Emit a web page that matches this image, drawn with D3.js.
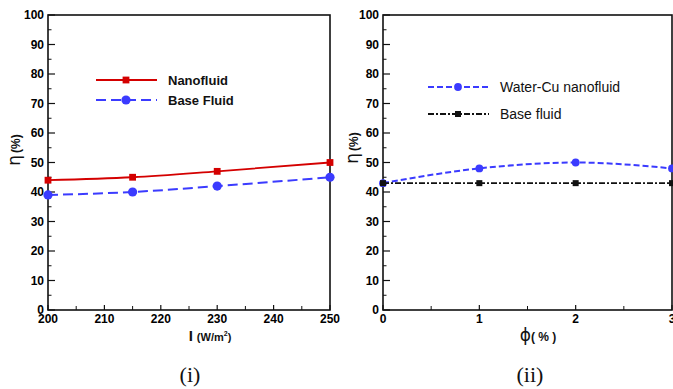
<!DOCTYPE html>
<html>
<head>
<meta charset="utf-8">
<script src="https://cdn.jsdelivr.net/npm/d3@7"></script>
<style>
  body { margin: 0; background: #fff; }
  svg { display: block; font-family: "Liberation Sans", Arial, sans-serif; }
</style>
</head>
<body>
<svg id="chart"></svg>
<script>
// ---- data (i): efficiency vs irradiance ----
const irradiance = [200, 215, 230, 250];
const nanofluidEff = [44, 45, 47, 50];
const baseFluidEff = [39, 40, 42, 45];

// ---- data (ii): efficiency vs volume fraction ----
const phi = [0, 1, 2, 3];
const waterCuEff = [43, 48, 50, 48];
const baseEff2 = [43, 43, 43, 43];

const yTicks = [0, 10, 20, 30, 40, 50, 60, 70, 80, 90, 100];
const xTicks1 = [200, 210, 220, 230, 240, 250];
const xTicks2 = [0, 1, 2, 3];

const width = 673, height = 389;
const svg = d3.select("#chart").attr("width", width).attr("height", height);

const plotTop = 15, plotBottom = 310;

function drawPanel(p) {
  const x = d3.scaleLinear().domain(p.xDomain).range([p.left, p.right]);
  const y = d3.scaleLinear().domain([0, 100]).range([plotBottom, plotTop]);
  const g = svg.append("g");

  // frame
  g.append("rect")
    .attr("x", p.left).attr("y", plotTop)
    .attr("width", p.right - p.left).attr("height", plotBottom - plotTop)
    .attr("fill", "none").attr("stroke", "#111").attr("stroke-width", 1.6);

  // y ticks (inward)
  const yMinor = d3.range(5, 100, 10);
  g.selectAll(".ymaj").data(yTicks).join("line")
    .attr("x1", p.left).attr("x2", p.left + 7)
    .attr("y1", d => y(d)).attr("y2", d => y(d))
    .attr("stroke", "#111").attr("stroke-width", 1.2);
  g.selectAll(".ymin").data(yMinor).join("line")
    .attr("x1", p.left).attr("x2", p.left + 3.5)
    .attr("y1", d => y(d)).attr("y2", d => y(d))
    .attr("stroke", "#111").attr("stroke-width", 1);
  g.selectAll(".ylab").data(yTicks).join("text")
    .attr("x", p.left - 4).attr("y", d => y(d) + 4)
    .attr("text-anchor", "end")
    .attr("font-size", "12px").attr("font-weight", "bold")
    .text(d => d);

  // x ticks (inward)
  g.selectAll(".xmaj").data(p.xTicks).join("line")
    .attr("x1", d => x(d)).attr("x2", d => x(d))
    .attr("y1", plotBottom).attr("y2", plotBottom - 5)
    .attr("stroke", "#111").attr("stroke-width", 1.2);
  g.selectAll(".xmin").data(p.xMinor).join("line")
    .attr("x1", d => x(d)).attr("x2", d => x(d))
    .attr("y1", plotBottom).attr("y2", plotBottom - 4)
    .attr("stroke", "#111").attr("stroke-width", 1);
  g.selectAll(".xlab").data(p.xTicks).join("text")
    .attr("x", d => x(d)).attr("y", plotBottom + 13)
    .attr("text-anchor", "middle")
    .attr("font-size", "12px").attr("font-weight", "bold")
    .text(d => d);

  // series
  p.series.forEach(s => {
    const line = d3.line()
      .x((d, i) => x(p.xs[i]))
      .y(d => y(d))
      .curve(d3.curveMonotoneX);
    g.append("path")
      .datum(s.values)
      .attr("d", line)
      .attr("fill", "none")
      .attr("stroke", s.color)
      .attr("stroke-width", s.width)
      .attr("stroke-dasharray", s.dash);
    s.values.forEach((v, i) => drawMarker(g, s, x(p.xs[i]), y(v)));
  });

  // legend
  p.series.forEach((s, i) => {
    const ly = p.legend.y + i * p.legend.step;
    g.append("line")
      .attr("x1", p.legend.x).attr("x2", p.legend.x + 61)
      .attr("y1", ly).attr("y2", ly)
      .attr("stroke", s.color).attr("stroke-width", s.width)
      .attr("stroke-dasharray", s.dash);
    drawMarker(g, s, p.legend.x + 30, ly);
    g.append("text")
      .attr("x", p.legend.x + p.legend.textGap).attr("y", ly + 5)
      .attr("font-size", p.legend.fontSize)
      .attr("font-weight", p.legend.weight)
      .attr("fill", "#111")
      .text(s.name);
  });

  return g;
}

function drawMarker(g, s, cx, cy) {
  if (s.marker === "circle") {
    g.append("circle").attr("cx", cx).attr("cy", cy).attr("r", s.size)
      .attr("fill", s.color);
  } else {
    g.append("rect")
      .attr("x", cx - s.size).attr("y", cy - s.size)
      .attr("width", s.size * 2).attr("height", s.size * 2)
      .attr("fill", s.color);
  }
}

drawPanel({
  left: 48, right: 330,
  xDomain: [200, 250], xs: irradiance,
  xTicks: xTicks1, xMinor: [205, 215, 225, 235, 245],
  series: [
    { name: "Nanofluid", values: nanofluidEff, color: "#d40000", width: 1.8, dash: null, marker: "square", size: 3.4 },
    { name: "Base Fluid", values: baseFluidEff, color: "#3b3bff", width: 2, dash: "10,5", marker: "circle", size: 4.6 }
  ],
  legend: { x: 96, y: 80, step: 20, textGap: 72, fontSize: "13px", weight: "bold" }
});

drawPanel({
  left: 383, right: 672,
  xDomain: [0, 3], xs: phi,
  xTicks: xTicks2, xMinor: [0.5, 1.5, 2.5],
  series: [
    { name: "Water-Cu nanofluid", values: waterCuEff, color: "#3b3bff", width: 2, dash: "6,3", marker: "circle", size: 3.9 },
    { name: "Base fluid", values: baseEff2, color: "#111", width: 1.8, dash: "6,2,2,2", marker: "square", size: 3 }
  ],
  legend: { x: 428, y: 87, step: 27, textGap: 72, fontSize: "14px", weight: "normal" }
});

// axis titles
function yTitle(cx, cy) {
  const t = svg.append("text")
    .attr("transform", `translate(${cx},${cy}) rotate(-90)`)
    .attr("text-anchor", "middle")
    .attr("fill", "#111");
  t.append("tspan").attr("font-family", "DejaVu Sans, sans-serif").attr("font-size", "17px").text("η");
  t.append("tspan").attr("font-size", "12px").attr("font-weight", "bold").attr("dx", 2).text("(%)");
}
yTitle(20, 150);
yTitle(358, 148);

const xt1 = svg.append("text").attr("x", 210).attr("y", 341).attr("text-anchor", "middle").attr("fill", "#111");
xt1.append("tspan").attr("font-size", "15px").attr("font-weight", "bold").text("I");
xt1.append("tspan").attr("font-size", "11px").attr("font-weight", "bold").attr("dx", 4).text("(W/m");
xt1.append("tspan").attr("font-size", "7px").attr("font-weight", "bold").attr("dy", -5).text("2");
xt1.append("tspan").attr("font-size", "11px").attr("font-weight", "bold").attr("dy", 5).text(")");

const xt2 = svg.append("text").attr("x", 538).attr("y", 341).attr("text-anchor", "middle").attr("fill", "#111");
xt2.append("tspan").attr("font-family", "DejaVu Sans, sans-serif").attr("font-size", "17px").text("ϕ");
xt2.append("tspan").attr("font-size", "12px").attr("font-weight", "bold").text("( % )");

// panel labels
const panelLabels = [{ t: "(i)", x: 190 }, { t: "(ii)", x: 530 }];
svg.selectAll(".plab").data(panelLabels).join("text")
  .attr("x", d => d.x).attr("y", 382)
  .attr("text-anchor", "middle")
  .attr("font-family", "Liberation Serif, Times New Roman, serif")
  .attr("font-size", "22px")
  .attr("fill", "#111")
  .text(d => d.t);
</script>
</body>
</html>
